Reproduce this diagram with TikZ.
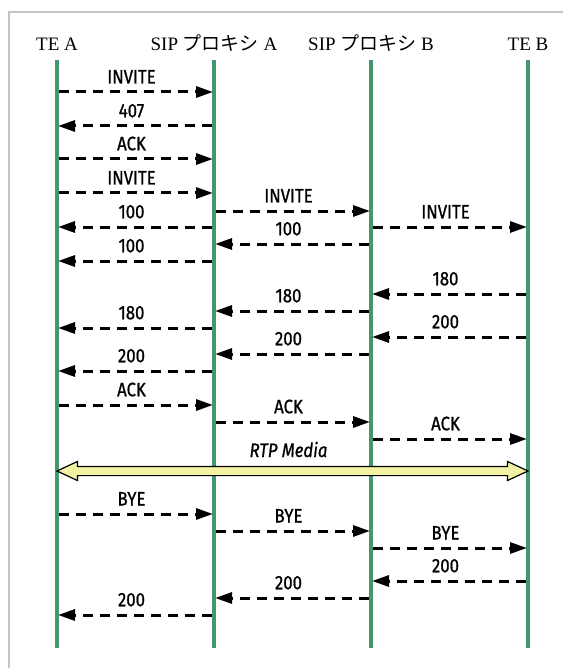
\documentclass[tikz,border=0pt]{standalone}
\usepackage{fontspec}
\setmainfont{Liberation Serif}
\newfontfamily\cjk{Noto Sans CJK JP}
\newfontfamily\msgfont{Fira Sans}[FakeStretch=0.86,FakeBold=0.8]
\usetikzlibrary{arrows.meta,positioning,shapes.arrows}
\definecolor{life}{HTML}{41996B}
\definecolor{framegray}{HTML}{C4C4C4}
\definecolor{media}{HTML}{F2F2A2}
\newcommand{\msg}[4]{\draw[msg] (#1 |- 0,#3) -- node[lbl] {#4} (#2 |- 0,#3);}
\tikzset{
  lifeline/.style={draw=life,line width=4.5pt},
  hdr/.style={anchor=base,inner sep=0pt,font=\fontsize{19}{19}\selectfont},
  msg/.style={-{Triangle[length=17pt,width=11pt]},line width=3pt,dash pattern=on 10pt off 7pt,shorten <=2pt,shorten >=1pt},
  lbl/.style={above=7pt,inner sep=0pt,xshift=-4pt,font=\msgfont\fontsize{19.5}{19.5}\selectfont},
  rtp/.style={double arrow,draw=black,line width=1.2pt,fill=media,inner sep=0pt,text height=4pt,text depth=4pt,double arrow head extend=5pt,double arrow tip angle=50}
}
\begin{document}
\begin{tikzpicture}[x=1pt,y=-1pt]
  \useasboundingbox (0,0) rectangle (563,668);
  \clip (0,0) rectangle (563,668);
  \draw[framegray,line width=1.6pt] (9,12) rectangle (600,700);
  \foreach \n/\x in {ta/57,pa/214,pb/371,tb/528}{
    \coordinate (\n) at (\x,60);
    \coordinate (\n-end) at (\x,648);
    \draw[lifeline] (\n) -- (\n-end);
  }
  \node[hdr] (ta-name) at (57,51) {TE A};
  \node[hdr] (pa-name) at (214,51) {SIP {\cjk プロキシ} A};
  \node[hdr] (pb-name) at (371,51) {SIP {\cjk プロキシ} B};
  \node[hdr] (tb-name) at (528,51) {TE B};

  \msg{ta}{pa}{92}{INVITE}
  \msg{pa}{ta}{126}{407}
  \msg{ta}{pa}{159}{ACK}
  \msg{ta}{pa}{193}{INVITE}
  \msg{pa}{pb}{211}{INVITE}
  \msg{pa}{ta}{227}{100}
  \msg{pb}{tb}{227}{INVITE}
  \msg{pb}{pa}{244}{100}
  \msg{pa}{ta}{261}{100}
  \msg{tb}{pb}{294}{180}
  \msg{pb}{pa}{311}{180}
  \msg{pa}{ta}{328}{180}
  \msg{tb}{pb}{337}{200}
  \msg{pb}{pa}{354}{200}
  \msg{pa}{ta}{371}{200}
  \msg{ta}{pa}{405}{ACK}
  \msg{pa}{pb}{422}{ACK}
  \msg{pb}{tb}{439}{ACK}

  \node[rtp,minimum height=471pt] (media) at (292.5,471) {};
  \node[anchor=base,inner sep=0pt,xshift=-4pt,font=\msgfont\itshape\fontsize{19.5}{19.5}\selectfont] (media-name) at (292.5,457) {RTP Media};

  \msg{ta}{pa}{514}{BYE}
  \msg{pa}{pb}{531}{BYE}
  \msg{pb}{tb}{548}{BYE}
  \msg{tb}{pb}{581}{200}
  \msg{pb}{pa}{598}{200}
  \msg{pa}{ta}{615}{200}
\end{tikzpicture}
\end{document}
